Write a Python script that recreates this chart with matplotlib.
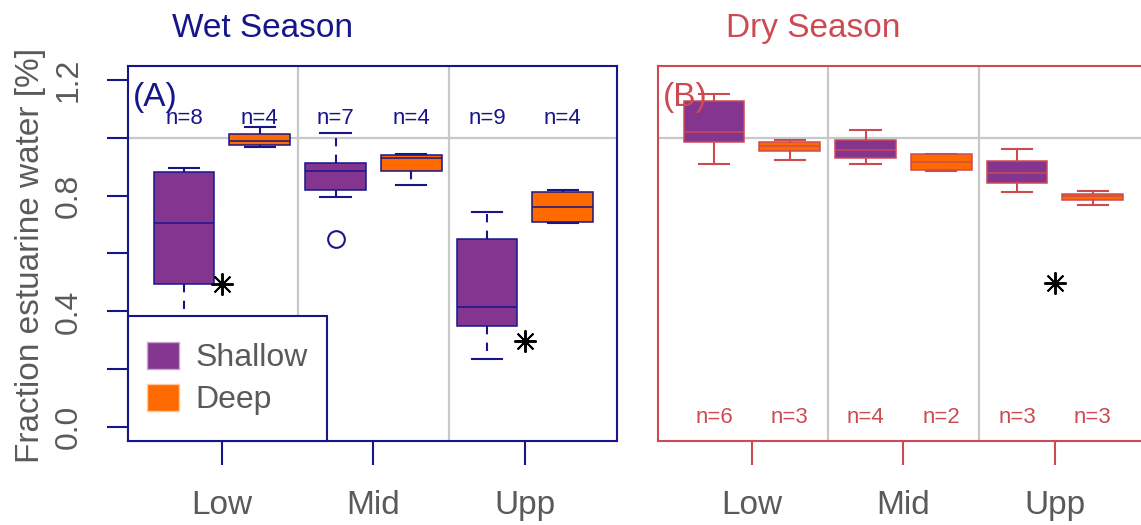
import matplotlib
matplotlib.use("Agg")
import matplotlib.pyplot as plt
from matplotlib.patches import Patch, Rectangle

plt.rcParams['font.family'] = ['Liberation Sans', 'DejaVu Sans']

# ---- data ----
sites = ["Low", "Mid", "Upp"]
depths = ["Shallow", "Deep"]

# wet season
wet_sh_whislo = [0.30, 0.795, 0.235]
wet_sh_q1 = [0.495, 0.820, 0.351]
wet_sh_med = [0.706, 0.886, 0.416]
wet_sh_q3 = [0.882, 0.912, 0.650]
wet_sh_whishi = [0.896, 1.018, 0.742]
wet_sh_fliers = [[], [0.650], []]

wet_dp_whislo = [0.969, 0.837, 0.705]
wet_dp_q1 = [0.975, 0.884, 0.708]
wet_dp_med = [0.988, 0.930, 0.760]
wet_dp_q3 = [1.013, 0.941, 0.811]
wet_dp_whishi = [1.037, 0.945, 0.818]
wet_dp_fliers = [[], [], []]

# dry season
dry_sh_whislo = [0.908, 0.911, 0.811]
dry_sh_q1 = [0.984, 0.931, 0.844]
dry_sh_med = [1.021, 0.956, 0.877]
dry_sh_q3 = [1.128, 0.993, 0.919]
dry_sh_whishi = [1.150, 1.026, 0.961]
dry_sh_fliers = [[], [], []]

dry_dp_whislo = [0.924, 0.886, 0.769]
dry_dp_q1 = [0.954, 0.887, 0.784]
dry_dp_med = [0.970, 0.917, 0.797]
dry_dp_q3 = [0.986, 0.943, 0.806]
dry_dp_whishi = [0.992, 0.945, 0.817]
dry_dp_fliers = [[], [], []]

wet_n_sh = [8, 7, 9]
wet_n_dp = [4, 4, 4]
dry_n_sh = [6, 4, 3]
dry_n_dp = [3, 2, 3]

# asterisk markers (site index 1..3, value)
wet_star_site = [1, 3]
wet_star_val = [0.495, 0.298]
dry_star_site = [3]
dry_star_val = [0.498]

ytick_values = [0.0, 0.2, 0.4, 0.6, 0.8, 1.0, 1.2]
ytick_labels = ["0.0", "", "0.4", "", "0.8", "", "1.2"]

# ---- styling ----
NAVY = "#16168a"
RED = "#cc4b53"
PURPLE = "#833590"
ORANGE = "#ff6a00"
GRAYTXT = "#5a5a5a"
GRID = "#c8c8c8"


def make_stats(whislo, q1, med, q3, whishi, fliers):
    out = []
    for i in range(len(med)):
        out.append(dict(whislo=whislo[i], q1=q1[i], med=med[i], q3=q3[i],
                        whishi=whishi[i], fliers=fliers[i]))
    return out


def draw_panel(ax, sh_stats, dp_stats, n_sh, n_dp, n_y, star_site, star_val,
               col, whisk_ls, label):
    pos = [i + 1 for i in range(len(sites))]
    ax.axvline(1.5, color=GRID, lw=1.6, zorder=0)
    ax.axvline(2.5, color=GRID, lw=1.6, zorder=0)
    ax.axhline(1.0, color=GRID, lw=1.6, zorder=0)
    for stats, off, fc in [(sh_stats, -0.25, PURPLE), (dp_stats, 0.25, ORANGE)]:
        ax.bxp(stats, positions=[p + off for p in pos], widths=0.4,
               patch_artist=True, showfliers=True, manage_ticks=False,
               boxprops=dict(facecolor=fc, edgecolor=col, linewidth=1.1),
               medianprops=dict(color=col, linewidth=1.1),
               whiskerprops=dict(color=col, linewidth=1.5, linestyle=whisk_ls),
               capprops=dict(color=col, linewidth=1.5),
               flierprops=dict(marker='o', markerfacecolor='none',
                               markeredgecolor=col, markersize=12,
                               markeredgewidth=1.5),
               zorder=2)
    for i, p in enumerate(pos):
        ax.text(p - 0.25, n_y, "n=%d" % n_sh[i], color=col, fontsize=16,
                ha='center', va='baseline')
        ax.text(p + 0.25, n_y, "n=%d" % n_dp[i], color=col, fontsize=16,
                ha='center', va='baseline')
    ax.plot(star_site, star_val, linestyle='none', marker=(8, 2, 0),
            color='black', markersize=16, markeredgewidth=1.4, zorder=4)
    ax.text(0.01, 0.893, label, transform=ax.transAxes, color=col,
            fontsize=24, ha='left', va='baseline')

    ax.set_xlim(0.38, 3.608)
    ax.set_ylim(-0.048, 1.248)
    ax.set_xticks(pos)
    ax.set_xticklabels(sites)
    for s in ax.spines.values():
        s.set_color(col)
        s.set_linewidth(1.5)
    ax.tick_params(axis='x', length=17, width=1.5, color=col, pad=18,
                   labelsize=24, labelcolor=GRAYTXT)


fig = plt.figure(figsize=(11.41, 5.25), dpi=100)
W, H = 1141.0, 525.0
axA = fig.add_axes([128 / W, (H - 441) / H, 489 / W, 375 / H])
axB = fig.add_axes([658 / W, (H - 441) / H, 489 / W, 375 / H])

draw_panel(axA,
           make_stats(wet_sh_whislo, wet_sh_q1, wet_sh_med, wet_sh_q3, wet_sh_whishi, wet_sh_fliers),
           make_stats(wet_dp_whislo, wet_dp_q1, wet_dp_med, wet_dp_q3, wet_dp_whishi, wet_dp_fliers),
           wet_n_sh, wet_n_dp, 1.048, wet_star_site, wet_star_val,
           NAVY, (0, (4, 4)), "(A)")
draw_panel(axB,
           make_stats(dry_sh_whislo, dry_sh_q1, dry_sh_med, dry_sh_q3, dry_sh_whishi, dry_sh_fliers),
           make_stats(dry_dp_whislo, dry_dp_q1, dry_dp_med, dry_dp_q3, dry_dp_whishi, dry_dp_fliers),
           dry_n_sh, dry_n_dp, 0.014, dry_star_site, dry_star_val,
           RED, '-', "(B)")

# y axis only on panel A
axA.set_yticks(ytick_values)
axA.set_yticklabels(ytick_labels)
axA.tick_params(axis='y', length=15, width=1.5, color=NAVY, pad=17,
                labelsize=23, labelcolor=GRAYTXT)
plt.setp(axA.get_yticklabels(), rotation=90, va='center')
axB.set_yticks([])

# legend: white box with navy frame in the lower left corner of panel A
lw_frac, lh_frac = 199 / 489, 125 / 375
axA.add_patch(Rectangle((0, 0), lw_frac, lh_frac, transform=axA.transAxes,
                        facecolor='white', edgecolor=NAVY, linewidth=1.5,
                        zorder=5, clip_on=False))
handles = [Patch(facecolor=PURPLE, edgecolor='#c9a6cf', label=depths[0]),
           Patch(facecolor=ORANGE, edgecolor='#ffc9a0', label=depths[1])]
leg = axA.legend(handles=handles, loc='center',
                 bbox_to_anchor=(0, 0, lw_frac, lh_frac),
                 borderaxespad=0, fontsize=23, labelcolor=GRAYTXT,
                 frameon=False, handlelength=1.0, handleheight=0.95,
                 handletextpad=0.5, labelspacing=0.32, borderpad=0.3)
leg.set_zorder(6)

fig.text(263 / W, (H - 37) / H, "Wet Season", color=NAVY, fontsize=24,
         ha='center', va='baseline')
fig.text(813 / W, (H - 37) / H, "Dry Season", color=RED, fontsize=24,
         ha='center', va='baseline')
fig.text(31 / W, (H - 255) / H, "Fraction estuarine water [%]", color=GRAYTXT,
         fontsize=24, rotation=90, ha='center', va='center')

fig.savefig("out.png", dpi=100)
